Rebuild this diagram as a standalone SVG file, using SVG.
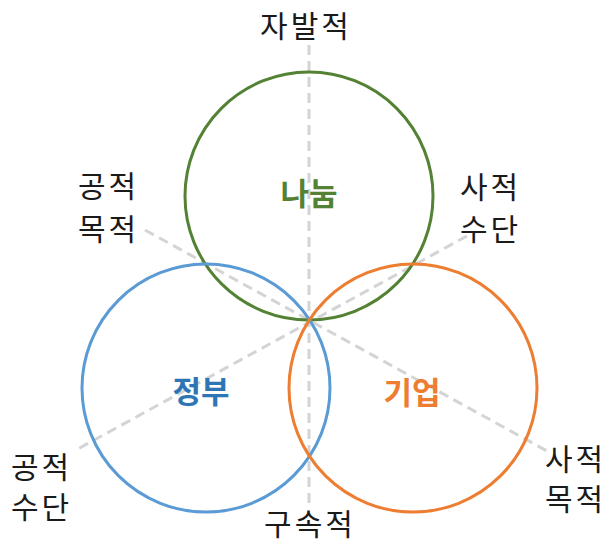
<svg xmlns="http://www.w3.org/2000/svg" width="610" height="545" viewBox="0 0 610 545">
<style>
.axis{stroke:#d4d4d4;stroke-width:3;stroke-dasharray:10 6;fill:none}
.circ{fill:none;stroke-width:3}
.lbl{font-family:"Noto Sans CJK KR","Noto Sans",sans-serif;font-size:30px;fill:#1a1a1a;letter-spacing:3px}
.core{font-family:"Noto Sans CJK KR","Noto Sans",sans-serif;font-size:31px;font-weight:bold;text-anchor:middle}
</style>
<rect width="610" height="545" fill="#fff"/>
<g id="connectors">
<line class="axis" x1="309" y1="45" x2="309" y2="506"/>
<line class="axis" x1="145" y1="230" x2="547" y2="451"/>
<line class="axis" x1="467" y1="236" x2="76" y2="450"/>
</g>
<g id="node-nanum">
<circle class="circ" cx="309" cy="196" r="124" stroke="#548235"/>
<text class="core" x="309" y="205" fill="#548235">나눔</text>
</g>
<g id="node-jeongbu">
<circle class="circ" cx="206" cy="388" r="124" stroke="#5B9BD5"/>
<text class="core" x="201" y="403" fill="#2E75B6">정부</text>
</g>
<g id="node-gieop">
<circle class="circ" cx="413" cy="388" r="124" stroke="#ED7D31"/>
<text class="core" x="412" y="404" fill="#ED7D31">기업</text>
</g>
<g id="label-top"><text class="lbl" x="306" y="37" text-anchor="middle">자발적</text></g>
<g id="label-bottom"><text class="lbl" x="310" y="535" text-anchor="middle">구속적</text></g>
<g id="label-ul"><text class="lbl" x="78" y="197">공적</text><text class="lbl" x="78" y="240">목적</text></g>
<g id="label-ur"><text class="lbl" x="460" y="198">사적</text><text class="lbl" x="460" y="240">수단</text></g>
<g id="label-ll"><text class="lbl" x="11" y="478">공적</text><text class="lbl" x="11" y="518">수단</text></g>
<g id="label-lr"><text class="lbl" x="545" y="470">사적</text><text class="lbl" x="545" y="510">목적</text></g>
</svg>
